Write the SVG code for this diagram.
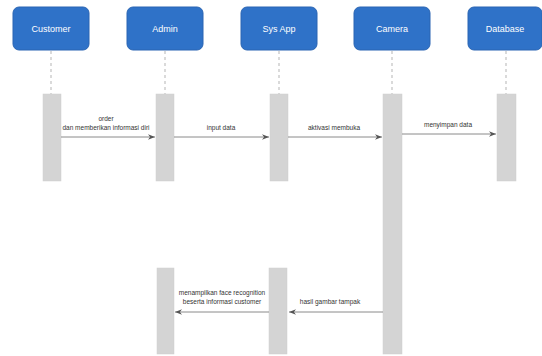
<svg xmlns="http://www.w3.org/2000/svg" width="542" height="356" viewBox="0 0 542 356">
<defs>
<marker id="ah" viewBox="0 0 10 10" refX="10" refY="5" markerWidth="7" markerHeight="7" orient="auto-start-reverse" markerUnits="userSpaceOnUse">
<path d="M0,1 L10,5 L0,9 L3,5 z" fill="#555"/>
</marker>
<style>
.box{fill:#2f72c8;stroke:#2a65b3;stroke-width:1}
.nt{font-family:"Liberation Sans",Arial,sans-serif;font-size:9px;fill:#ffffff;text-anchor:middle}
.life{stroke:#b5b5b5;stroke-width:1;stroke-dasharray:3,3;fill:none}
.bar{fill:#d4d4d4;stroke:#cfcfcf;stroke-width:0.5}
.msg{stroke:#8a8a8a;stroke-width:1;fill:none;marker-end:url(#ah)}
.lt{font-family:"Liberation Sans",Arial,sans-serif;font-size:6.5px;fill:#333;text-anchor:middle}
</style>
</defs>
<rect width="542" height="356" fill="#ffffff"/>
<g id="lifelines">
<line class="life" x1="51" y1="51" x2="51" y2="94"/>
<line class="life" x1="165" y1="51" x2="165" y2="94"/>
<line class="life" x1="279" y1="51" x2="279" y2="94"/>
<line class="life" x1="392" y1="51" x2="392" y2="94"/>
<line class="life" x1="506" y1="51" x2="506" y2="94"/>
</g>
<g id="customer">
<rect class="box" x="13" y="7" width="76" height="43" rx="6"/>
<text class="nt" x="51" y="31.5">Customer</text>
<rect class="bar" x="43" y="94" width="18" height="87"/>
</g>
<g id="admin">
<rect class="box" x="127" y="7" width="76" height="43" rx="6"/>
<text class="nt" x="165" y="31.5">Admin</text>
<rect class="bar" x="156" y="94" width="18" height="87"/>
<rect class="bar" x="157" y="268" width="17" height="86"/>
</g>
<g id="sysapp">
<rect class="box" x="241" y="7" width="76" height="43" rx="6"/>
<text class="nt" x="279" y="31.5">Sys App</text>
<rect class="bar" x="270" y="94" width="18" height="87"/>
<rect class="bar" x="269" y="268" width="18" height="86"/>
</g>
<g id="camera">
<rect class="box" x="354" y="7" width="76" height="43" rx="6"/>
<text class="nt" x="392" y="31.5">Camera</text>
<rect class="bar" x="383" y="94" width="19" height="260"/>
</g>
<g id="database">
<rect class="box" x="468" y="7" width="74" height="43" rx="6"/>
<text class="nt" x="505" y="31.5">Database</text>
<rect class="bar" x="497" y="94" width="19" height="87"/>
</g>
<g id="connectors">
<line class="msg" x1="61" y1="137" x2="155" y2="137"/>
<text class="lt" x="106" y="121">order</text>
<text class="lt" x="106" y="130">dan memberikan informasi diri</text>
<line class="msg" x1="174" y1="137" x2="269" y2="137"/>
<text class="lt" x="221" y="130">input data</text>
<line class="msg" x1="288" y1="137" x2="382" y2="137"/>
<text class="lt" x="334" y="130">aktivasi membuka</text>
<line class="msg" x1="402" y1="134" x2="496" y2="134"/>
<text class="lt" x="448" y="127">menyimpan data</text>
<line class="msg" x1="383" y1="312" x2="289" y2="312"/>
<text class="lt" x="330" y="304">hasil gambar tampak</text>
<line class="msg" x1="269" y1="312" x2="175" y2="312"/>
<text class="lt" x="222" y="295">menampilkan face recognition</text>
<text class="lt" x="222" y="304">beserta informasi customer</text>
</g>
</svg>
